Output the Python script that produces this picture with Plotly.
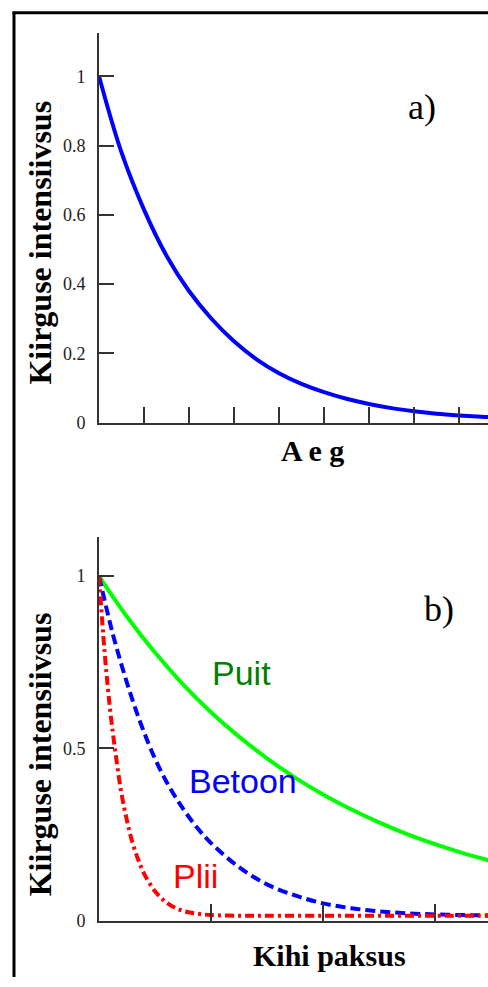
import plotly.graph_objects as go

# ---------------- data ----------------
# panel a: intensity vs time (x in tick units)
aeg_x = [0, 0.5, 1, 1.5, 2, 2.5, 3, 3.5, 4, 4.5, 5, 5.5, 6, 6.5, 7, 7.5, 8, 8.5, 9]
aeg_y = [1.0, 0.78, 0.615, 0.482, 0.38, 0.30, 0.235, 0.183, 0.143, 0.112, 0.088, 0.069, 0.054, 0.042, 0.033, 0.026, 0.021, 0.017, 0.014]
a_yticks = [0, 0.2, 0.4, 0.6, 0.8, 1]
a_yticklabels = ["0", "0.2", "0.4", "0.6", "0.8", "1"]
a_xticks = [0, 1, 2, 3, 4, 5, 6, 7, 8, 9]

# panel b: intensity vs layer thickness
puit_x = [0, 0.25, 0.5, 0.75, 1, 1.25, 1.5, 1.75, 2, 2.25, 2.5, 2.75, 3, 3.25, 3.5]
puit_y = [1.0, 0.882, 0.778, 0.686, 0.605, 0.534, 0.471, 0.415, 0.366, 0.323, 0.285, 0.251, 0.222, 0.196, 0.173]

betoon_x = [0, 0.125, 0.25, 0.375, 0.5, 0.625, 0.75, 0.875, 1, 1.25, 1.5, 1.75, 2, 2.25, 2.5, 2.75, 3, 3.25, 3.5]
betoon_y = [1.0, 0.83, 0.69, 0.57, 0.47, 0.39, 0.325, 0.27, 0.225, 0.155, 0.105, 0.073, 0.05, 0.036, 0.027, 0.021, 0.018, 0.016, 0.015]

plii_x = [0, 0.05, 0.1, 0.15, 0.2, 0.25, 0.3, 0.35, 0.4, 0.5, 0.6, 0.7, 0.8, 0.9, 1.0, 1.25, 1.5, 2, 2.5, 3, 3.5]
plii_y = [1.0, 0.78, 0.61, 0.48, 0.37, 0.29, 0.225, 0.177, 0.138, 0.085, 0.053, 0.034, 0.024, 0.019, 0.016, 0.014, 0.014, 0.014, 0.014, 0.014, 0.014]

b_yticks = [0, 0.5, 1]
b_yticklabels = ["0", "0.5", "1"]
b_xticks = [0, 1, 2, 3, 4]

W, H = 488, 987
AX_COLOR = "#333333"
SERIF = "Liberation Serif, Times New Roman, serif"
SANS = "Liberation Sans, Arial, sans-serif"

fig = go.Figure()

fig.add_trace(go.Scatter(x=aeg_x, y=aeg_y, mode="lines", line=dict(color="#0000FF", width=4, shape="spline"),
                         xaxis="x", yaxis="y", showlegend=False, hoverinfo="skip"))
fig.add_trace(go.Scatter(x=puit_x, y=puit_y, mode="lines", line=dict(color="#00FF00", width=4, shape="spline"),
                         xaxis="x2", yaxis="y2", showlegend=False, hoverinfo="skip"))
fig.add_trace(go.Scatter(x=betoon_x, y=betoon_y, mode="lines", line=dict(color="#0000FF", width=4, dash="10px,5px", shape="spline"),
                         xaxis="x2", yaxis="y2", showlegend=False, hoverinfo="skip"))
fig.add_trace(go.Scatter(x=plii_x, y=plii_y, mode="lines", line=dict(color="#FF0000", width=4, dash="9px,4px,3px,4px", shape="spline"),
                         xaxis="x2", yaxis="y2", showlegend=False, hoverinfo="skip"))

# geometry (pixels)
x0_px = 99
a_top, a_bot = 33, 427
b_top, b_bot = 543, 930

def ydom(top, bot):
    return [1 - bot / H, 1 - top / H]

axis_common = dict(showline=True, linecolor=AX_COLOR, linewidth=2, showgrid=False, zeroline=False,
                   ticks="inside", tickcolor=AX_COLOR, tickwidth=2, mirror=False)

a_xmax = (W - x0_px) / 45.0
b_xmax = (W - x0_px) / 112.0

fig.update_layout(
    width=W, height=H,
    margin=dict(l=0, r=0, t=0, b=0),
    paper_bgcolor="white", plot_bgcolor="white",
    xaxis=dict(domain=[x0_px / W, 1], range=[0, a_xmax], tickvals=a_xticks, showticklabels=False,
               ticklen=16, anchor="y", **axis_common),
    yaxis=dict(domain=ydom(a_top, a_bot), range=[0, (a_bot - a_top) / 350.0], tickvals=a_yticks,
               ticktext=a_yticklabels, ticklen=15, anchor="x", ticklabelstandoff=8,
               tickfont=dict(family=SERIF, size=18, color="#222222"), **axis_common),
    xaxis2=dict(domain=[x0_px / W, 1], range=[0, b_xmax], tickvals=b_xticks, showticklabels=False,
                ticklen=17, anchor="y2", **axis_common),
    yaxis2=dict(domain=ydom(b_top, b_bot), range=[0, (b_bot - b_top) / 348.0], tickvals=b_yticks,
                ticktext=b_yticklabels, ticklen=15, anchor="x2", ticklabelstandoff=8,
                tickfont=dict(family=SERIF, size=18, color="#222222"), **axis_common),
)

def pan(px, py, text, size, bold=False, angle=0, family=SERIF, color="black"):
    fig.add_annotation(x=px / W, y=1 - py / H, xref="paper", yref="paper", text=("<b>%s</b>" % text) if bold else text,
                       showarrow=False, textangle=angle, xanchor="center", yanchor="middle",
                       font=dict(family=family, size=size, color=color))

# axis titles
pan(40, 245, "Kiirguse intensiivsus", 32, bold=True, angle=-90)
pan(312, 455, "A e g", 30, bold=True)
pan(40, 762, "Kiirguse intensiivsus", 32, bold=True, angle=-90)
pan(329, 965, "Kihi paksus", 30, bold=True)

# panel labels (data coords)
fig.add_annotation(x=7.18, y=0.911, xref="x", yref="y", text="a)", showarrow=False,
                   font=dict(family=SERIF, size=36, color="black"))
fig.add_annotation(x=3.04, y=0.905, xref="x2", yref="y2", text="b)", showarrow=False,
                   font=dict(family=SERIF, size=36, color="black"))
fig.add_annotation(x=1.27, y=0.72, xref="x2", yref="y2", text="Puit", showarrow=False,
                   font=dict(family=SANS, size=34, color="#008000"))
fig.add_annotation(x=1.29, y=0.405, xref="x2", yref="y2", text="Betoon", showarrow=False,
                   font=dict(family=SANS, size=34, color="#0000FF"))
fig.add_annotation(x=0.866, y=0.13, xref="x2", yref="y2", text="Plii", showarrow=False,
                   font=dict(family=SANS, size=34, color="#FF0000"))

# frame border (left and top)
fig.add_shape(type="line", xref="paper", yref="paper", x0=14 / W, x1=14 / W, y0=0, y1=1 - 12 / H,
              line=dict(color="black", width=3))
fig.add_shape(type="line", xref="paper", yref="paper", x0=12.5 / W, x1=1, y0=1 - 13 / H, y1=1 - 13 / H,
              line=dict(color="black", width=3))

fig.write_html("out.html")
